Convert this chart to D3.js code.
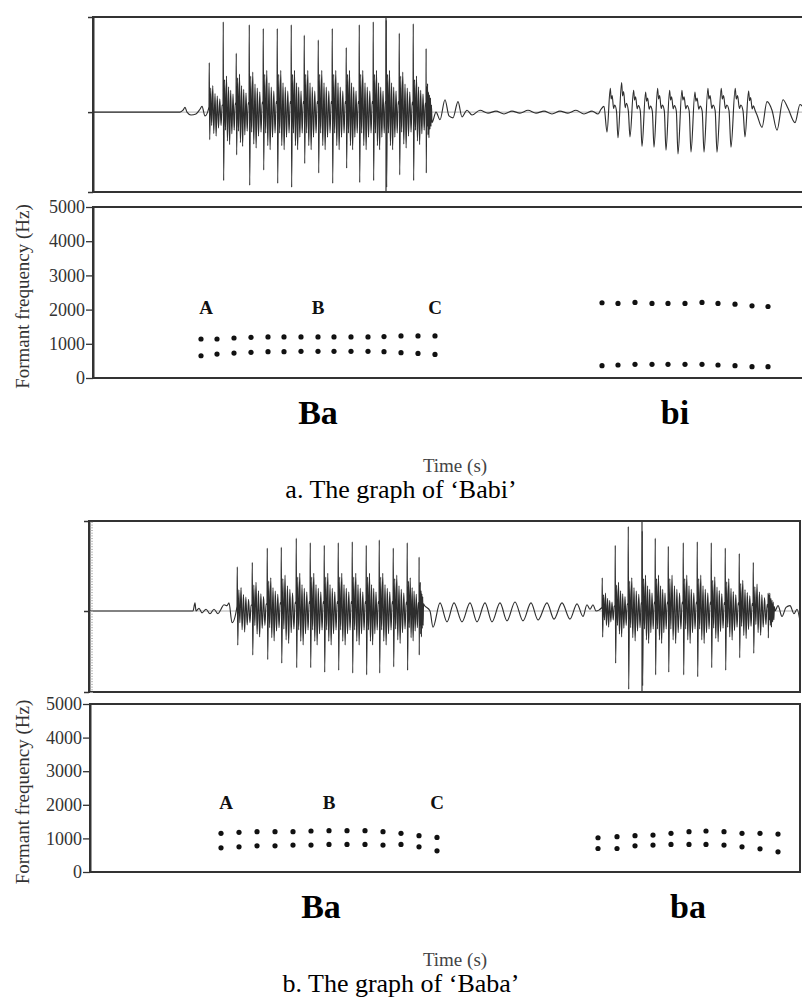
<!DOCTYPE html>
<html>
<head>
<meta charset="utf-8">
<script src="https://cdn.jsdelivr.net/npm/d3@7"></script>
<style>
  body { margin: 0; background: #fff; }
  svg text { font-family: "Liberation Serif", "Times New Roman", serif; }
</style>
</head>
<body>
<svg id="chart" width="802" height="1004"></svg>
<script>
// ---- shared labels ----
var formantTicks = [0, 1000, 2000, 3000, 4000, 5000];
var pointNames = ["A", "B", "C"];
var syllablesBabi = ["Ba", "bi"];
var syllablesBaba = ["Ba", "ba"];
var captions = ["a. The graph of \u2018Babi\u2019", "b. The graph of \u2018Baba\u2019"];

// ---- panel a: 'Babi' formant tracks (time s, Hz) ----
var babiBaTime = [0.108, 0.124, 0.141, 0.158, 0.175, 0.191, 0.208, 0.225, 0.241, 0.258, 0.275, 0.291, 0.308, 0.325, 0.342];
var babiBaF1 = [650, 700, 730, 750, 770, 770, 780, 780, 780, 780, 780, 770, 740, 720, 690];
var babiBaF2 = [1140, 1140, 1170, 1190, 1200, 1200, 1200, 1200, 1200, 1200, 1200, 1210, 1230, 1230, 1230];
var babiBiTime = [0.509, 0.525, 0.542, 0.559, 0.575, 0.592, 0.609, 0.625, 0.642, 0.659, 0.675];
var babiBiF1 = [360, 380, 400, 400, 400, 400, 400, 380, 360, 330, 330];
var babiBiF2 = [2200, 2180, 2210, 2180, 2180, 2180, 2210, 2180, 2160, 2110, 2090];

// ---- panel a: waveform (relative amplitude) ----
var babiOnsetTime = [0, 0.087, 0.090, 0.092, 0.094, 0.098, 0.103, 0.107, 0.109, 0.112];
var babiOnsetAmp = [0, 0, 0.02, 0.05, 0, -0.03, -0.02, 0.03, 0.06, -0.04];
var babiBaPulseTime = [0.116, 0.130, 0.143, 0.156, 0.170, 0.184, 0.198, 0.211, 0.225, 0.239, 0.253, 0.266, 0.280, 0.293, 0.306, 0.320, 0.333];
var babiBaPulseHi = [0.52, 0.95, 0.62, 0.92, 0.88, 0.88, 0.92, 0.81, 0.76, 0.88, 0.68, 0.92, 0.95, 0.97, 0.83, 0.93, 0.67];
var babiBaPulseLo = [-0.29, -0.72, -0.45, -0.77, -0.61, -0.75, -0.79, -0.54, -0.64, -0.75, -0.59, -0.74, -0.72, -0.79, -0.66, -0.72, -0.64];
var babiBaRipple = [0.28, 0.38, 0.40, 0.42, 0.44, 0.44, 0.44, 0.44, 0.44, 0.44, 0.44, 0.44, 0.44, 0.44, 0.42, 0.38, 0.30];
var babiGapTime = [0.339, 0.343, 0.347, 0.352, 0.356, 0.360, 0.365, 0.369, 0.374, 0.379, 0.387, 0.395, 0.403, 0.411, 0.419, 0.427, 0.435, 0.443, 0.451, 0.459, 0.467, 0.475, 0.483, 0.491, 0.499, 0.505, 0.508, 0.511];
var babiGapAmp = [-0.11, 0, -0.08, 0.13, -0.04, -0.06, 0.11, -0.05, 0.02, -0.03, 0.02, -0.01, 0.01, -0.02, 0.01, -0.01, 0.02, -0.01, 0.01, -0.02, 0.01, -0.01, 0.02, -0.02, 0.01, -0.02, 0.03, 0.06];
var babiBiPulseTime = [0.514, 0.525, 0.537, 0.549, 0.561, 0.573, 0.585, 0.598, 0.611, 0.624, 0.638, 0.652];
var babiBiPulseHi = [0.25, 0.31, 0.23, 0.21, 0.25, 0.23, 0.23, 0.21, 0.25, 0.25, 0.25, 0.22];
var babiBiPulseLo = [-0.21, -0.27, -0.26, -0.36, -0.37, -0.40, -0.44, -0.42, -0.42, -0.42, -0.37, -0.26];
var babiTailTime = [0.664, 0.669, 0.674, 0.679, 0.684, 0.690, 0.695, 0.702, 0.707, 0.713];
var babiTailAmp = [-0.03, -0.16, 0.11, 0.02, -0.19, 0.13, 0.04, -0.11, 0.08, 0];

// ---- panel b: 'Baba' formant tracks ----
var babaBa1Time = [0.132, 0.150, 0.168, 0.186, 0.204, 0.222, 0.240, 0.258, 0.276, 0.294, 0.312, 0.330, 0.348];
var babaBa1F1 = [720, 750, 780, 780, 800, 800, 820, 820, 820, 800, 820, 750, 630];
var babaBa1F2 = [1150, 1180, 1200, 1200, 1200, 1220, 1230, 1230, 1230, 1200, 1150, 1080, 1030];
var babaBa2Time = [0.509, 0.528, 0.546, 0.564, 0.582, 0.600, 0.617, 0.635, 0.653, 0.671, 0.689];
var babaBa2F1 = [700, 700, 780, 800, 820, 820, 820, 800, 750, 690, 600];
var babaBa2F2 = [1020, 1050, 1080, 1100, 1150, 1200, 1220, 1200, 1150, 1150, 1130];

// ---- panel b: waveform ----
var babaOnsetTime = [0, 0.104, 0.106, 0.107, 0.110, 0.113, 0.117, 0.121, 0.125, 0.129, 0.132, 0.135, 0.138, 0.140, 0.143];
var babaOnsetAmp = [0, 0, 0.09, 0, 0.03, -0.02, 0.02, -0.03, 0.02, -0.03, 0.02, 0.07, 0.06, 0.09, -0.13];
var babaBa1PulseTime = [0.148, 0.163, 0.178, 0.192, 0.207, 0.221, 0.235, 0.249, 0.263, 0.277, 0.290, 0.304, 0.318, 0.330];
var babaBa1PulseHi = [0.49, 0.54, 0.70, 0.71, 0.81, 0.76, 0.73, 0.76, 0.77, 0.73, 0.79, 0.70, 0.76, 0.60];
var babaBa1PulseLo = [-0.38, -0.49, -0.54, -0.58, -0.63, -0.63, -0.68, -0.66, -0.69, -0.71, -0.69, -0.62, -0.66, -0.49];
var babaBa1Ripple = [0.26, 0.32, 0.37, 0.40, 0.42, 0.42, 0.42, 0.42, 0.42, 0.42, 0.42, 0.40, 0.37, 0.32];
var babaGapTime = [0.335, 0.341, 0.344, 0.351, 0.358, 0.365, 0.373, 0.381, 0.388, 0.396, 0.403, 0.411, 0.418, 0.426, 0.434, 0.442, 0.449, 0.458, 0.465, 0.473, 0.481, 0.488, 0.494, 0.498, 0.501, 0.504, 0.507];
var babaGapAmp = [0.07, 0, -0.18, 0.09, -0.12, 0.09, -0.12, 0.09, -0.12, 0.09, -0.12, 0.09, -0.11, 0.10, -0.11, 0.09, -0.10, 0.09, -0.09, 0.09, -0.09, 0.08, -0.06, 0.07, 0.02, 0.07, 0];
var babaBa2PulseTime = [0.513, 0.526, 0.539, 0.553, 0.566, 0.579, 0.594, 0.608, 0.622, 0.636, 0.650, 0.664, 0.679];
var babaBa2PulseHi = [0.37, 0.73, 0.94, 0.89, 0.81, 0.72, 0.76, 0.77, 0.76, 0.70, 0.64, 0.54, 0.20];
var babaBa2PulseLo = [-0.29, -0.58, -0.87, -0.83, -0.71, -0.68, -0.71, -0.73, -0.63, -0.66, -0.52, -0.47, -0.30];
var babaBa2Ripple = [0.20, 0.32, 0.37, 0.40, 0.40, 0.40, 0.40, 0.40, 0.38, 0.36, 0.34, 0.30, 0.20];
var babaTailTime = [0.686, 0.689, 0.693, 0.697, 0.701, 0.705, 0.708, 0.711];
var babaTailAmp = [0, 0.06, -0.06, 0.04, 0.06, -0.03, 0.02, -0.11];

// shape of one glottal period (fraction of period, fraction of ripple)
var spikeShape = [[0.12, 0.9], [0.19, -0.5], [0.27, 1.0], [0.34, -0.8], [0.43, 0.7], [0.51, -0.9],
                  [0.59, 0.6], [0.68, -0.6], [0.77, 0.5], [0.86, -0.5], [0.94, 0.25]];
// shape of one 'bi' period (fraction of period, fraction of peak)
var sawShape = [[0.30, 1.0], [0.38, 0.55], [0.47, 0.7], [0.60, 0.15], [0.70, 0.3], [0.86, 0.05]];

function addPairs(pts, ts, as) {
  ts.forEach(function(t, i) { pts.push([t, as[i]]); });
}
function addSpikes(pts, ts, hi, lo, rip, end) {
  ts.forEach(function(t, i) {
    var p = (i < ts.length - 1 ? ts[i + 1] : end) - t;
    pts.push([t, rip[i] * 0.2]);
    pts.push([t + 0.02 * p, hi[i]]);
    pts.push([t + 0.05 * p, lo[i]]);
    spikeShape.forEach(function(s) { pts.push([t + s[0] * p, s[1] * rip[i]]); });
  });
}
function addSaw(pts, ts, hi, lo, end) {
  ts.forEach(function(t, i) {
    var p = (i < ts.length - 1 ? ts[i + 1] : end) - t;
    pts.push([t, lo[i]]);
    sawShape.forEach(function(s) { pts.push([t + s[0] * p, s[1] * hi[i]]); });
  });
}

var babiWave = [];
addPairs(babiWave, babiOnsetTime, babiOnsetAmp);
addSpikes(babiWave, babiBaPulseTime, babiBaPulseHi, babiBaPulseLo, babiBaRipple, 0.3388);
addPairs(babiWave, babiGapTime, babiGapAmp);
addSaw(babiWave, babiBiPulseTime, babiBiPulseHi, babiBiPulseLo, 0.664);
addPairs(babiWave, babiTailTime, babiTailAmp);

var babaWave = [];
addPairs(babaWave, babaOnsetTime, babaOnsetAmp);
addSpikes(babaWave, babaBa1PulseTime, babaBa1PulseHi, babaBa1PulseLo, babaBa1Ripple, 0.3348);
addPairs(babaWave, babaGapTime, babaGapAmp);
addSpikes(babaWave, babaBa2PulseTime, babaBa2PulseHi, babaBa2PulseLo, babaBa2Ripple, 0.6858);
addPairs(babaWave, babaTailTime, babaTailAmp);

var svg = d3.select("#chart");

function drawPanel(cfg) {
  var g = svg.append("g");
  var x = d3.scaleLinear().domain([0, cfg.duration]).range([cfg.left, cfg.right]);
  var yW = d3.scaleLinear().domain([cfg.ampMin, 1]).range([cfg.waveBottom, cfg.waveTop]);
  var yF = d3.scaleLinear().domain([0, 5000]).range([cfg.formBottom, cfg.formTop]);

  // ---- waveform box ----
  var clipId = "clip" + cfg.id;
  g.append("clipPath").attr("id", clipId).append("rect")
    .attr("x", cfg.left).attr("y", cfg.waveTop - 4)
    .attr("width", cfg.right - cfg.left).attr("height", cfg.waveBottom - cfg.waveTop + 8);

  g.append("line")
    .attr("x1", cfg.left).attr("x2", cfg.right)
    .attr("y1", yW(0)).attr("y2", yW(0))
    .attr("stroke", "#999").attr("stroke-width", 0.8);

  g.append("path")
    .datum(cfg.wave)
    .attr("clip-path", "url(#" + clipId + ")")
    .attr("fill", "none")
    .attr("stroke", "#2e2e2e")
    .attr("stroke-width", 1.15)
    .attr("d", d3.line().x(function(d) { return x(d[0]); }).y(function(d) { return yW(d[1]); }).curve(d3.curveMonotoneX));

  // cursor line
  g.append("line")
    .attr("x1", x(cfg.cursor)).attr("x2", x(cfg.cursor))
    .attr("y1", cfg.waveTop).attr("y2", cfg.waveBottom)
    .attr("stroke", "#333").attr("stroke-width", 1.2);

  g.append("rect")
    .attr("x", cfg.left).attr("y", cfg.waveTop)
    .attr("width", cfg.right - cfg.left).attr("height", cfg.waveBottom - cfg.waveTop)
    .attr("fill", "none").attr("stroke", "#333").attr("stroke-width", 2);

  var waveAxis = g.append("g")
    .attr("transform", "translate(" + cfg.left + ",0)")
    .call(d3.axisLeft(yW).tickValues([cfg.ampMin, 0, 1]).tickSize(5).tickSizeOuter(0).tickFormat(""));
  waveAxis.selectAll("line").attr("stroke", "#333").attr("stroke-width", 1.5);
  waveAxis.select(".domain").attr("stroke", "#333").attr("stroke-width", 2);

  if (cfg.ruler) {
    var ruler = g.append("g")
      .attr("transform", "translate(" + (cfg.left + 1) + ",0)")
      .call(d3.axisRight(yW).tickValues(d3.range(cfg.ampMin, 1, 0.03)).tickSize(3).tickSizeOuter(0).tickFormat(""));
    ruler.selectAll("line").attr("stroke", "#aaa").attr("stroke-width", 0.8);
    ruler.select(".domain").remove();
  }

  // ---- formant box ----
  g.append("rect")
    .attr("x", cfg.fLeft).attr("y", cfg.formTop)
    .attr("width", cfg.right - cfg.fLeft).attr("height", cfg.formBottom - cfg.formTop)
    .attr("fill", "none").attr("stroke", "#333").attr("stroke-width", 2);

  var fAxis = g.append("g")
    .attr("transform", "translate(" + cfg.fLeft + ",0)")
    .call(d3.axisLeft(yF).tickValues(formantTicks).tickFormat(d3.format("d"))
      .tickSize(7).tickSizeOuter(0).tickPadding(1));
  fAxis.select(".domain").attr("stroke", "#333").attr("stroke-width", 2);
  fAxis.selectAll("line").attr("stroke", "#333").attr("stroke-width", 1.3);
  fAxis.selectAll("text")
    .attr("fill", "#333")
    .style("font-family", "'Liberation Serif', serif")
    .style("font-size", "18px");

  g.append("text")
    .attr("transform", "translate(22," + ((cfg.formTop + cfg.formBottom) / 2 + 4) + ") rotate(-90)")
    .attr("text-anchor", "middle")
    .attr("dominant-baseline", "central")
    .attr("fill", "#333")
    .style("font-size", "19px")
    .text("Formant frequency (Hz)");

  // formant dots
  cfg.tracks.forEach(function(tr) {
    [tr.f1, tr.f2].forEach(function(vals) {
      g.selectAll(null)
        .data(tr.time.map(function(t, i) { return [t, vals[i]]; }))
        .enter().append("circle")
        .attr("cx", function(d) { return x(d[0]); })
        .attr("cy", function(d) { return yF(d[1]); })
        .attr("r", 2.6)
        .attr("fill", "#111");
    });
  });

  // A B C over first track
  var t0 = cfg.tracks[0].time;
  var labelTimes = [t0[0], t0[Math.floor(t0.length / 2)], t0[t0.length - 1]];
  g.selectAll(null)
    .data(pointNames)
    .enter().append("text")
    .attr("x", function(d, i) { return x(labelTimes[i]) + (i === 0 ? 5 : 0); })
    .attr("y", yF(2000) + 4)
    .attr("text-anchor", "middle")
    .attr("font-weight", "bold")
    .attr("fill", "#111")
    .style("font-size", "19px")
    .text(function(d) { return d; });

  // syllable labels
  g.selectAll(null)
    .data(cfg.syllables)
    .enter().append("text")
    .attr("x", function(d, i) {
      var t = cfg.tracks[i].time;
      return x((t[0] + t[t.length - 1]) / 2) + cfg.sylShift[i];
    })
    .attr("y", cfg.formBottom + 46)
    .attr("text-anchor", "middle")
    .attr("font-weight", "bold")
    .attr("fill", "#000")
    .style("font-size", "34px")
    .text(function(d) { return d; });

  g.append("text")
    .attr("x", 455).attr("y", cfg.formBottom + 94)
    .attr("text-anchor", "middle")
    .attr("fill", "#444")
    .style("font-size", "19px")
    .text("Time (s)");

  g.append("text")
    .attr("x", 401).attr("y", cfg.formBottom + 120)
    .attr("text-anchor", "middle")
    .attr("fill", "#000")
    .style("font-size", "26px")
    .text(cfg.caption);
}

drawPanel({
  id: "a", left: 93, fLeft: 93, right: 813, duration: 0.72,
  waveTop: 17, waveBottom: 192, ampMin: -0.84,
  formTop: 207, formBottom: 378,
  wave: babiWave, cursor: 0.293, ruler: false,
  tracks: [
    { time: babiBaTime, f1: babiBaF1, f2: babiBaF2 },
    { time: babiBiTime, f1: babiBiF1, f2: babiBiF2 }
  ],
  syllables: syllablesBabi, sylShift: [0, -10],
  caption: captions[0]
});

drawPanel({
  id: "b", left: 89, fLeft: 90, right: 800, duration: 0.711,
  waveTop: 521, waveBottom: 692, ampMin: -0.9,
  formTop: 704, formBottom: 872,
  wave: babaWave, cursor: 0.553, ruler: true,
  tracks: [
    { time: babaBa1Time, f1: babaBa1F1, f2: babaBa1F2 },
    { time: babaBa2Time, f1: babaBa2F1, f2: babaBa2F2 }
  ],
  syllables: syllablesBaba, sylShift: [-8, 0],
  caption: captions[1]
});
</script>
</body>
</html>
